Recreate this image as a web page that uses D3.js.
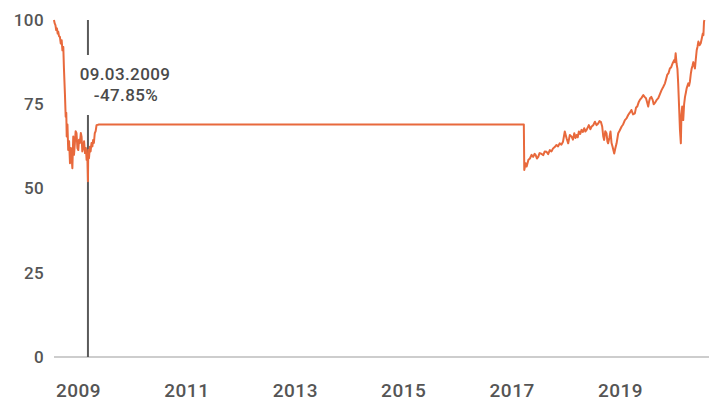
<!DOCTYPE html>
<html>
<head>
<meta charset="utf-8">
<script src="https://cdn.jsdelivr.net/npm/d3@7"></script>
<style>
  html, body { margin: 0; padding: 0; background: #fff; }
  svg { display: block; }
  text { font-family: Roboto, "DejaVu Sans", sans-serif; }
</style>
</head>
<body>
<svg id="chart" width="714" height="403"></svg>
<script>
// ---- data ----
const dates = [
  "2008-07-23","2008-07-28","2008-08-02","2008-08-07","2008-08-12","2008-08-17","2008-08-21","2008-08-26",
  "2008-09-01","2008-09-07","2008-09-13","2008-09-18","2008-09-24","2008-09-28",
  "2008-10-05","2008-10-10","2008-10-14","2008-10-17","2008-10-22","2008-10-27","2008-11-02","2008-11-08","2008-11-14",
  "2008-11-19","2008-11-24","2008-11-30","2008-12-05","2008-12-11","2008-12-16","2008-12-22","2008-12-28",
  "2009-01-03","2009-01-08","2009-01-14","2009-01-20","2009-01-25","2009-01-30","2009-02-05","2009-02-11",
  "2009-02-17","2009-02-23","2009-02-28","2009-03-05","2009-03-09","2009-03-11","2009-03-16","2009-03-22",
  "2009-03-27","2009-04-02","2009-04-08","2009-04-13","2009-04-18","2009-04-24","2009-04-30","2009-05-06",
  "2009-05-15","2009-05-23",
  "2017-03-24","2017-03-27","2017-04-05","2017-04-12","2017-04-24","2017-05-04","2017-05-15","2017-05-26","2017-06-05","2017-06-12","2017-06-20","2017-06-29",
  "2017-07-08","2017-07-17","2017-08-02","2017-08-12","2017-08-24","2017-09-04","2017-09-15","2017-09-26","2017-10-07","2017-10-18","2017-10-30","2017-11-10","2017-11-21","2017-12-02","2017-12-13",
  "2017-12-25","2018-01-06","2018-01-17","2018-01-28","2018-02-09","2018-02-18","2018-02-27","2018-03-07","2018-03-15","2018-03-22","2018-03-30",
  "2018-04-08","2018-04-17","2018-04-26","2018-05-05","2018-05-13","2018-05-21","2018-06-05","2018-06-15","2018-06-24","2018-07-05","2018-07-16","2018-07-27","2018-08-07","2018-08-16","2018-08-25",
  "2018-09-03","2018-09-10","2018-09-16","2018-09-24","2018-10-02","2018-10-08","2018-10-13","2018-10-21","2018-10-29","2018-11-05","2018-11-12","2018-11-23","2018-12-01","2018-12-09",
  "2018-12-20","2018-12-30","2019-01-12","2019-01-22","2019-02-03","2019-02-14","2019-02-25","2019-03-08","2019-03-19","2019-03-30","2019-04-11","2019-04-19","2019-04-27","2019-05-06","2019-05-15",
  "2019-05-26","2019-06-07","2019-06-16","2019-06-25","2019-07-03","2019-07-10","2019-07-16","2019-07-22","2019-07-31","2019-08-09","2019-08-16","2019-08-24","2019-09-04","2019-09-16","2019-09-27","2019-10-08",
  "2019-10-20","2019-10-31","2019-11-08","2019-11-15","2019-11-24","2019-12-03","2019-12-12","2019-12-21","2020-01-01","2020-01-06","2020-01-11","2020-01-17","2020-01-23","2020-01-28",
  "2020-02-04","2020-02-09","2020-02-15","2020-02-19","2020-02-24","2020-03-02","2020-03-08","2020-03-14","2020-03-20","2020-03-25","2020-04-05","2020-04-10",
  "2020-04-16","2020-04-22","2020-04-28","2020-05-04","2020-05-09","2020-05-20","2020-05-26","2020-06-01","2020-06-06","2020-06-12","2020-06-20","2020-06-28","2020-07-05","2020-07-12",
  "2020-07-16","2020-07-20","2020-07-23"
];
const values = [
  100, 99, 98.5, 97, 97.5, 96, 96.5, 95.2,
  95, 93, 94, 91, 92, 86,
  78, 71.3, 72.5, 65.4, 69, 61.4, 64, 57.5, 62,
  59.4, 56, 65.4, 60, 63.5, 67, 66.4, 62,
  61.4, 64.5, 63.5, 66.5, 65.4, 61, 62.4, 64,
  60.5, 62, 58.5, 60, 52.15, 61.4, 59, 62.4,
  61, 63.5, 62.5, 64.4, 63.5, 66.4, 67, 68.8,
  68.9, 69,
  69, 55.5, 57.5, 56.5, 58.5, 58.9, 60, 59.4, 60.3, 59.9, 58.9, 59.4,
  60.5, 60.4, 59.9, 61, 60.9, 60.2, 61.4, 61, 61.9, 62.3, 62.9, 62.5, 63.4, 63, 63.9,
  66.9, 64.9, 63.4, 65.9, 65.4, 64.5, 66.4, 65, 65.9, 65.2, 66.9,
  66.2, 67.4, 66.8, 67.9, 66.9, 67.4, 68.8, 67.6, 68.4, 68.8, 69.8, 68.8, 69.3, 70, 69.8,
  68.4, 65.5, 64.4, 67, 66.4, 64, 63.4, 65, 66.9, 63.5, 62.4, 60.4, 62, 63.4,
  66.4, 67.2, 68.4, 69, 70.3, 70.8, 71.8, 72.5, 73.3, 72, 72.3, 74, 74.3, 75.5, 76.3,
  76.9, 77.7, 77.2, 76.8, 75.5, 74.3, 75.8, 76.8, 77.2, 76.3, 75, 75.4, 76.2, 76.8, 78, 79.2,
  80.2, 81.2, 82.5, 83.7, 84.2, 85.6, 86, 87.1, 88.1, 87.5, 90.1, 87.1, 85.5, 81.2,
  73.3, 67.4, 63.4, 72, 74.3, 70.3, 75, 77.2, 78.5, 79.7, 81.2, 80.5,
  81.7, 84, 85.6, 86.5, 87.5, 85.6, 88.5, 91.1, 92, 93.6, 92.5, 93.1, 94.5, 96,
  95.5, 99.5, 100
];
const yTicks = [0, 25, 50, 75, 100];
const xTickYears = [2009, 2011, 2013, 2015, 2017, 2019];
const markerDate = "2009-03-09";
const markerLabel = ["09.03.2009", "-47.85%"];

// ---- chart ----
const svg = d3.select("#chart");
const parse = d3.timeParse("%Y-%m-%d");
const data = dates.map((d, i) => ({ date: parse(d), value: values[i] }));

const x = d3.scaleTime()
  .domain([new Date(2009, 0, 1), new Date(2019, 0, 1)])
  .range([78, 620]);
const y = d3.scaleLinear().domain([0, 100]).range([357, 20]);

const xLeft = 54, xRight = 709;

// baseline
svg.append("line")
  .attr("x1", xLeft).attr("x2", xRight)
  .attr("y1", y(0)).attr("y2", y(0))
  .attr("stroke", "#bdbdbd").attr("stroke-width", 1.5);

// y axis labels
const yAxis = d3.axisLeft(y).tickValues(yTicks).tickSize(0).tickPadding(0);
const gy = svg.append("g").attr("transform", "translate(44,0)").call(yAxis);
gy.select(".domain").remove();
gy.selectAll("text").attr("fill", "#555")
  .style("font-size", "17px").style("font-weight", "500").style("letter-spacing", "0.4px");

// x axis labels
const xAxis = d3.axisBottom(x)
  .tickValues(xTickYears.map(yr => new Date(yr, 0, 1)))
  .tickFormat(d3.timeFormat("%Y"))
  .tickSize(0).tickPadding(0);
const gx = svg.append("g").attr("transform", "translate(0,383)").call(xAxis);
gx.select(".domain").remove();
gx.selectAll("text").attr("fill", "#555")
  .style("font-size", "19px").style("font-weight", "500").style("letter-spacing", "0.5px");

// marker line
const mx = x(parse(markerDate));
svg.append("line")
  .attr("x1", mx).attr("x2", mx).attr("y1", y(100)).attr("y2", 55)
  .attr("stroke", "#5a5a5a").attr("stroke-width", 2);
svg.append("line")
  .attr("x1", mx).attr("x2", mx).attr("y1", 115).attr("y2", y(0))
  .attr("stroke", "#5a5a5a").attr("stroke-width", 2);

// series line
const line = d3.line().x(d => x(d.date)).y(d => y(d.value));
svg.append("path")
  .datum(data)
  .attr("d", line)
  .attr("fill", "none")
  .attr("stroke", "#e8693c")
  .attr("stroke-width", 2)
  .attr("stroke-linejoin", "round");

// marker label
const lbl = svg.append("text")
  .attr("text-anchor", "middle")
  .attr("fill", "#4a4a4a").style("font-size", "17px")
  .style("font-weight", "500").style("letter-spacing", "0.4px");
lbl.append("tspan").attr("x", 125).attr("y", 80).text(markerLabel[0]);
lbl.append("tspan").attr("x", 126).attr("y", 101).text(markerLabel[1]);
</script>
</body>
</html>
